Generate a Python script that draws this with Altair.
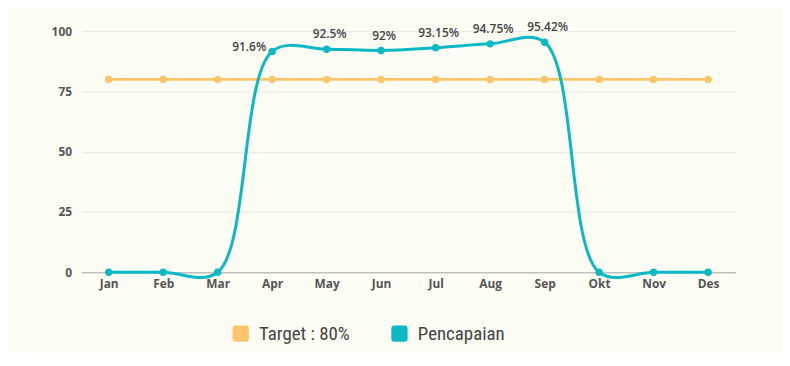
import altair as alt
import pandas as pd

months = ["Jan", "Feb", "Mar", "Apr", "May", "Jun", "Jul", "Aug", "Sep", "Okt", "Nov", "Des"]
target = [80] * 12
pencapaian = [0, 0, 0, 91.6, 92.5, 92, 93.15, 94.75, 95.42, 0, 0, 0]
series_names = ["Target :  80%", "Pencapaian"]
series_colors = ["#fcc56b", "#0bb9c4"]

rows = []
for m, t in zip(months, target):
    rows.append({"month": m, "value": t, "series": series_names[0], "label": ""})
for m, p in zip(months, pencapaian):
    lab = (f"{p:g}%" if p > 0 else "")
    rows.append({"month": m, "value": p, "series": series_names[1], "label": lab})
df = pd.DataFrame(rows)

rounded = "M -0.6,-1 L 0.6,-1 Q 1,-1 1,-0.6 L 1,0.6 Q 1,1 0.6,1 L -0.6,1 Q -1,1 -1,0.6 L -1,-0.6 Q -1,-1 -0.6,-1 Z"

x = alt.X("month:N", sort=months, scale=alt.Scale(type="point", padding=0.5),
          axis=alt.Axis(title=None, labelAngle=0, labelFont="Open Sans", labelFontWeight="bold",
                        labelFontSize=12, labelColor="#555555", labelPadding=6, ticks=False,
                        domainColor="#aaaaaa", domainWidth=1, grid=False))
y = alt.Y("value:Q", scale=alt.Scale(domain=[0, 100], nice=False),
          axis=alt.Axis(title=None, values=[0, 25, 50, 75, 100], labelFont="Open Sans",
                        labelFontWeight="bold", labelFontSize=12, labelColor="#555555",
                        labelPadding=10, ticks=False, domain=False, gridColor="#e6e6e6"))
color = alt.Color("series:N", scale=alt.Scale(domain=series_names, range=series_colors),
                  legend=alt.Legend(title=None, orient="none", direction="horizontal",
                                    legendX=151, legendY=295, symbolType=rounded, symbolSize=270,
                                    symbolStrokeWidth=0, symbolOpacity=1,
                                    labelFont="Liberation Sans Narrow, Roboto Condensed, Roboto",
                                    labelFontSize=19, labelColor="#444444",
                                    labelOffset=9, columnPadding=36, padding=0))

base = alt.Chart(df)
lines = base.mark_line(interpolate="catmull-rom", strokeWidth=3).encode(x=x, y=y, color=color)
points = base.mark_circle(size=55, opacity=1).encode(
    x=x, y=y,
    color=alt.Color("series:N", scale=alt.Scale(domain=series_names, range=series_colors), legend=None))
labels_main = base.transform_filter(
    (alt.datum.label != "") & (alt.datum.month != "Apr")
).mark_text(dy=-15, dx=3, fontSize=12, font="Open Sans", fontWeight=600, color="#444444"
).encode(x=x, y=y, text="label:N")
labels_apr = base.transform_filter(
    (alt.datum.label != "") & (alt.datum.month == "Apr")
).mark_text(dy=-4, dx=-6, align="right", fontSize=12, font="Open Sans", fontWeight=600, color="#444444"
).encode(x=x, y=y, text="label:N")

chart = alt.layer(lines, points, labels_main, labels_apr).properties(
    width=659, height=243, background="#fdfdf4",
    padding={"left": 74, "top": 22, "right": 47, "bottom": 80},
    autosize=alt.AutoSizeParams(type="none")
).configure_view(stroke=None)

chart.save("out.html", embed_options={"renderer": "svg", "actions": False})
